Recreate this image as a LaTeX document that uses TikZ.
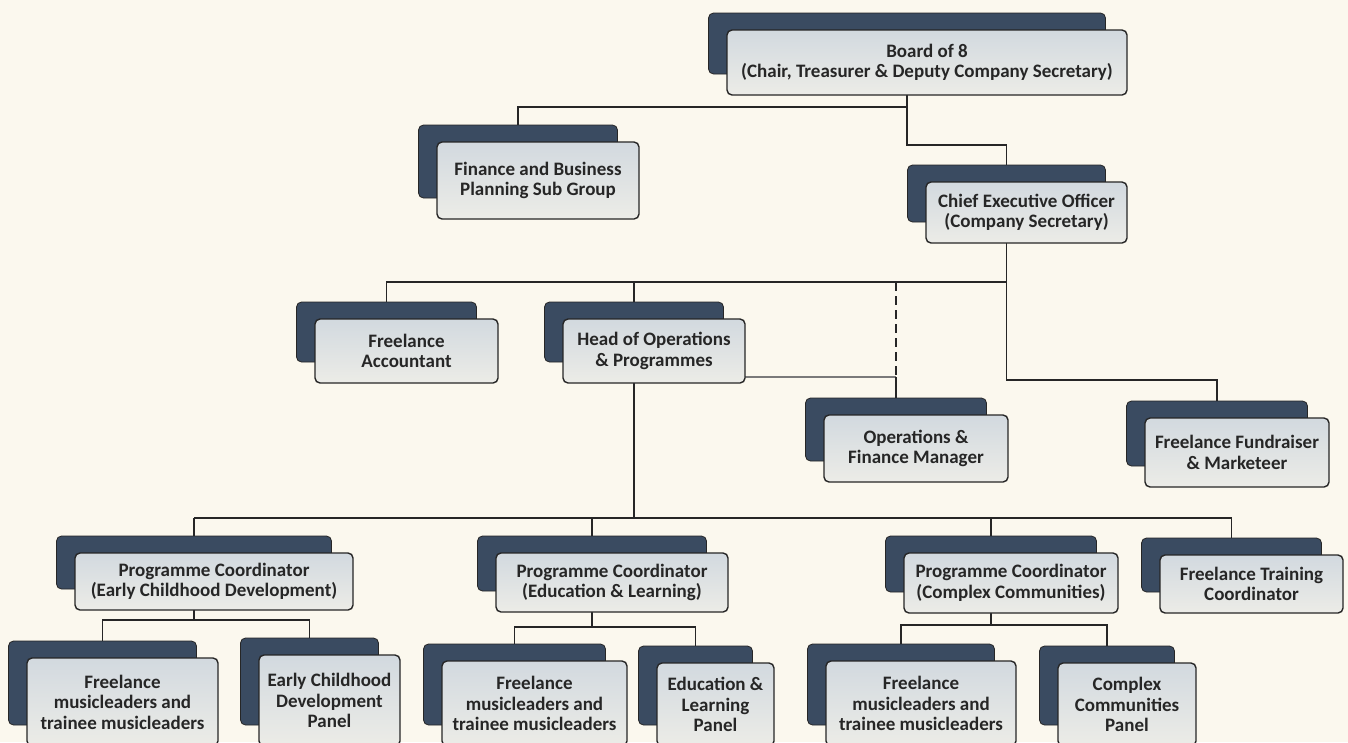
\documentclass[tikz,border=0pt]{standalone}
\usepackage{fontspec}
\setmainfont{Carlito}
\usetikzlibrary{calc}
\pgfdeclarelayer{paperlayer}
\pgfdeclarelayer{bg}
\pgfsetlayers{paperlayer,bg,main}
\definecolor{paper}{HTML}{FBF8EE}
\definecolor{navy}{HTML}{3A4B61}
\definecolor{frontA}{HTML}{D2D9DF}
\definecolor{frontB}{HTML}{ECECE7}
\definecolor{ink}{HTML}{262626}
\definecolor{grayline}{HTML}{7A7A7A}
\tikzset{
  darkbox/.style={draw=ink, fill=navy, rounded corners=5pt, line width=0.8pt, inner sep=0pt},
  frontbox/.style={draw=ink, top color=frontA, bottom color=frontB, rounded corners=5pt,
    line width=1.4pt, align=center, text=ink, inner sep=0pt,
    font=\bfseries\fontsize{19}{20.5}\selectfont},
  link/.style={draw=ink, line width=1.5pt},
  dashlink/.style={draw=ink, line width=1.5pt, dash pattern=on 9pt off 5pt},
  softlink/.style={draw=grayline, line width=1.6pt}
}
\newcommand\obox[6]{%
  \pgfmathsetmacro\bw{#4-#2}\pgfmathsetmacro\bh{#5-#3}%
  \pgfmathsetmacro\bcx{(#2+#4)/2}\pgfmathsetmacro\bcy{(#3+#5)/2}%
  \pgfmathsetmacro\dw{\bw-3}\pgfmathsetmacro\dh{\bh-4}%
  \node[darkbox, minimum width=\dw pt, minimum height=\dh pt] (#1d) at (\bcx-20,\bcy-19) {};
  \node[frontbox, minimum width=\bw pt, minimum height=\bh pt] (#1) at (\bcx,\bcy) {#6};
}
\begin{document}
\begin{tikzpicture}[x=1pt,y=-1pt]
\useasboundingbox (0,0) rectangle (1348,742);
\clip (0,0) rectangle (1348,742);
\begin{pgfonlayer}{paperlayer}
\fill[paper] (0,0) rectangle (1348,742);
\end{pgfonlayer}

\coordinate (j1) at (0,107);
\coordinate (j2) at (0,145);
\coordinate (j3) at (0,282);
\coordinate (j4) at (0,377);
\coordinate (j5) at (0,380);
\coordinate (j6) at (0,518);
\coordinate (ja) at (0,620);
\coordinate (jb) at (0,627);
\coordinate (jc) at (0,625);

\obox{board}{727}{30}{1127}{95}{Board of 8\\(Chair, Treasurer \& Deputy Company Secretary)}
\obox{fin}{437}{142}{639}{219}{Finance and Business\\Planning Sub Group}
\obox{ceo}{926}{182}{1127}{243}{Chief Executive Officer\\(Company Secretary)}
\obox{acc}{315}{319}{498}{383}{Freelance\\Accountant}
\obox{head}{563}{319}{745}{383}{Head of Operations\\\& Programmes}
\obox{ops}{824}{415}{1008}{482}{Operations \&\\Finance Manager}
\obox{fund}{1145}{418}{1329}{487}{Freelance Fundraiser\\\& Marketeer}
\obox{pca}{75}{553}{353}{610}{Programme Coordinator\\(Early Childhood Development)}
\obox{pcb}{496}{553}{728}{612}{Programme Coordinator\\(Education \& Learning)}
\obox{pcc}{904}{553}{1118}{613}{Programme Coordinator\\(Complex Communities)}
\obox{train}{1160}{555}{1343}{613}{Freelance Training\\Coordinator}
\obox{fma}{27}{658}{218}{746}{Freelance\\musicleaders and\\trainee musicleaders}
\obox{ecd}{259}{655}{400}{746}{Early Childhood\\Development\\Panel}
\obox{fmb}{442}{661}{627}{746}{Freelance\\musicleaders and\\trainee musicleaders}
\obox{elp}{657}{663}{774}{746}{Education \&\\Learning\\Panel}
\obox{fmc}{826}{661}{1016}{746}{Freelance\\musicleaders and\\trainee musicleaders}
\obox{ccp}{1058}{663}{1196}{746}{Complex\\Communities\\Panel}

\begin{pgfonlayer}{bg}
  % board
  \draw[link] (boardd.center) -- (boardd.center |- j2) -| (ceod.north);
  \draw[link] (boardd.center |- j1) -| (find.north);
  % ceo
  \draw[link] (ceod.center) -- (ceod.center |- j5) -| (fundd.north);
  \draw[link] (ceod.center |- j3) -| (accd.north);
  \draw[link] (ceod.center |- j3) -| (headd.north);
  \draw[dashlink] (opsd.north |- j3) -- (opsd.north |- j4);
  \draw[softlink] (headd.center |- j4) -- (opsd.north |- j4);
  \draw[link] (opsd.north |- j4) -- (opsd.north);
  % head
  \draw[link] (headd.center) -- (headd.center |- j6);
  \draw[link] (pcad.north |- j6) -- (traind.north |- j6);
  \draw[link] (pcad.north |- j6) -- (pcad.north);
  \draw[link] (pcbd.north |- j6) -- (pcbd.north);
  \draw[link] (pccd.north |- j6) -- (pccd.north);
  \draw[link] (traind.north |- j6) -- (traind.north);
  % coordinators
  \draw[link] (pcad.center) -- (pcad.center |- ja);
  \draw[link] (fmad.north) |- (pcad.center |- ja) -| (ecdd.north);
  \draw[link] (pcbd.center) -- (pcbd.center |- jb);
  \draw[link] (fmbd.north) |- (pcbd.center |- jb) -| (elpd.north);
  \draw[link] (pccd.center) -- (pccd.center |- jc);
  \draw[link] (fmcd.north) |- (pccd.center |- jc) -| (ccpd.north);
\end{pgfonlayer}
\end{tikzpicture}
\end{document}
